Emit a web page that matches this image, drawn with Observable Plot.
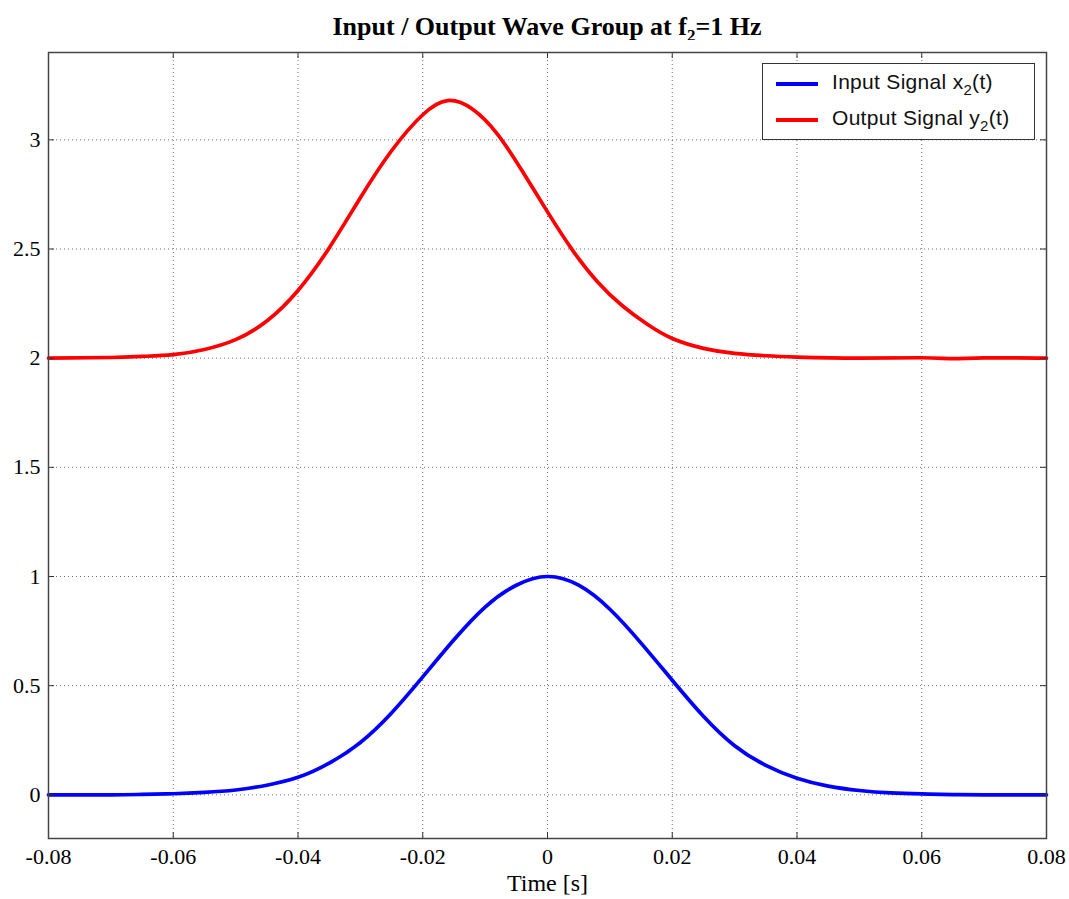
<!DOCTYPE html>
<html>
<head>
<meta charset="utf-8">
<script src="https://cdn.jsdelivr.net/npm/d3@7"></script>
<script src="https://cdn.jsdelivr.net/npm/@observablehq/plot@0.6"></script>
<style>
  html, body { margin: 0; padding: 0; background: #fff; }
  #wrap { position: relative; width: 1069px; height: 899px; overflow: hidden; }
  #title { position: absolute; left: 0; top: 12px; width: 1069px; padding-left: 25px; box-sizing: border-box;
    text-align: center; font-family: "Liberation Serif", "Times New Roman", serif; font-weight: bold; font-size: 26px; line-height: 30px; color: #000; }
  #title sub { font-size: 17px; vertical-align: -6px; line-height: 0; }
  #chart { position: absolute; left: 0; top: 40px; }
  #legend { position: absolute; left: 762px; top: 63px; width: 273px; height: 77px; border: 1px solid #333;
    background: #fff; box-sizing: border-box; font-family: "Liberation Sans", Arial, sans-serif; font-size: 21px; letter-spacing: 0.3px; color: #111; }
  .row { position: absolute; left: 0; height: 30px; width: 100%; }
  .swatch { position: absolute; left: 13px; width: 42px; height: 4px; top: 13px; }
  .lab { position: absolute; left: 69px; top: 1px; white-space: nowrap; line-height: 24px; }
  .lab sub { font-size: 15px; vertical-align: -6px; line-height: 0; }
</style>
</head>
<body>
<div id="wrap">
  <div id="title">Input / Output Wave Group at f<sub>2</sub>=1 Hz</div>
  <div id="chart"></div>
  <div id="legend"></div>
</div>
<script>
// ---- Data ----
const inputT = [-0.08, -0.07, -0.065, -0.06, -0.055, -0.05, -0.045, -0.04, -0.035, -0.03, -0.025, -0.02, -0.015, -0.01, -0.005, 0,
                0.005, 0.01, 0.015, 0.02, 0.025, 0.03, 0.035, 0.04, 0.045, 0.05, 0.055, 0.06, 0.065, 0.07, 0.08];
const inputV = [0, 0, 0.002, 0.005, 0.011, 0.022, 0.044, 0.08, 0.145, 0.24, 0.375, 0.54, 0.71, 0.86, 0.96, 1.0,
                0.96, 0.85, 0.695, 0.525, 0.36, 0.225, 0.135, 0.076, 0.04, 0.02, 0.009, 0.004, 0.001, 0, 0];

const outputT = [-0.08, -0.07, -0.065, -0.06, -0.055, -0.05, -0.045, -0.04, -0.035, -0.03, -0.025, -0.02, -0.016, -0.012, -0.008, -0.004, 0,
                 0.004, 0.008, 0.012, 0.016, 0.02, 0.025, 0.03, 0.035, 0.04, 0.05, 0.06, 0.065, 0.07, 0.08];
const outputV = [2.0, 2.003, 2.008, 2.016, 2.04, 2.085, 2.17, 2.31, 2.505, 2.735, 2.95, 3.115, 3.18, 3.14, 3.025, 2.855, 2.67,
                 2.495, 2.35, 2.24, 2.155, 2.09, 2.045, 2.022, 2.011, 2.005, 2.0, 2.002, 1.998, 2.001, 2.0];

const seriesNames = ["Input Signal x<sub>2</sub>(t)", "Output Signal y<sub>2</sub>(t)"];
const seriesColors = ["#0000ff", "#ff0000"];

const xTicks = [-0.08, -0.06, -0.04, -0.02, 0, 0.02, 0.04, 0.06, 0.08];
const yTicks = [0, 0.5, 1, 1.5, 2, 2.5, 3];
const xDomain = [-0.08, 0.08];
const yDomain = [-0.2, 3.4];
const xLabel = "Time [s]";

// ---- Build tables ----
const input = inputT.map((t, i) => ({t, v: inputV[i]}));
const output = outputT.map((t, i) => ({t, v: outputV[i]}));

const W = 1069, H = 859;
const mT = 12, mB = 61, mL = 48, mR = 23;
const plotW = W - mL - mR, plotH = H - mT - mB;
const tickLen = 6;
const fmt = d => String(d);

const chart = Plot.plot({
  width: W, height: H,
  marginTop: mT, marginBottom: mB, marginLeft: mL, marginRight: mR,
  style: { fontFamily: "'Liberation Serif', 'Times New Roman', serif", fontSize: "22px", color: "#000", background: "#fff" },
  x: { domain: xDomain },
  y: { domain: yDomain },
  marks: [
    Plot.gridX(xTicks, { stroke: "#555", strokeOpacity: 0.85, strokeDasharray: "1,3" }),
    Plot.gridY(yTicks, { stroke: "#555", strokeOpacity: 0.85, strokeDasharray: "1,3" }),
    Plot.line(input, { x: "t", y: "v", stroke: seriesColors[0], strokeWidth: 3.7, curve: "natural" }),
    Plot.line(output, { x: "t", y: "v", stroke: seriesColors[1], strokeWidth: 3.7, curve: "natural" }),
    Plot.tickX(xTicks, { x: d => d, insetTop: plotH - tickLen, stroke: "#333" }),
    Plot.tickX(xTicks, { x: d => d, insetBottom: plotH - tickLen, stroke: "#333" }),
    Plot.tickY(yTicks, { y: d => d, insetRight: plotW - tickLen, stroke: "#333" }),
    Plot.tickY(yTicks, { y: d => d, insetLeft: plotW - tickLen, stroke: "#333" }),
    Plot.axisX(xTicks, { tickSize: 0, tickPadding: 10, tickFormat: fmt, label: null }),
    Plot.axisY(yTicks, { tickSize: 0, tickPadding: 8, tickFormat: fmt, label: null }),
    Plot.text([xLabel], { text: d => d, frameAnchor: "bottom", dy: 45, fontSize: 24, lineAnchor: "middle", fill: "#000" }),
    Plot.frame({ stroke: "#444", strokeWidth: 1.5 })
  ]
});
document.getElementById("chart").appendChild(chart);

// ---- Legend ----
const legend = document.getElementById("legend");
seriesNames.forEach((name, i) => {
  const row = document.createElement("div");
  row.className = "row";
  row.style.top = (5 + i * 36) + "px";
  row.innerHTML = `<div class="swatch" style="background:${seriesColors[i]}"></div><div class="lab">${name}</div>`;
  legend.appendChild(row);
});
</script>
</body>
</html>
